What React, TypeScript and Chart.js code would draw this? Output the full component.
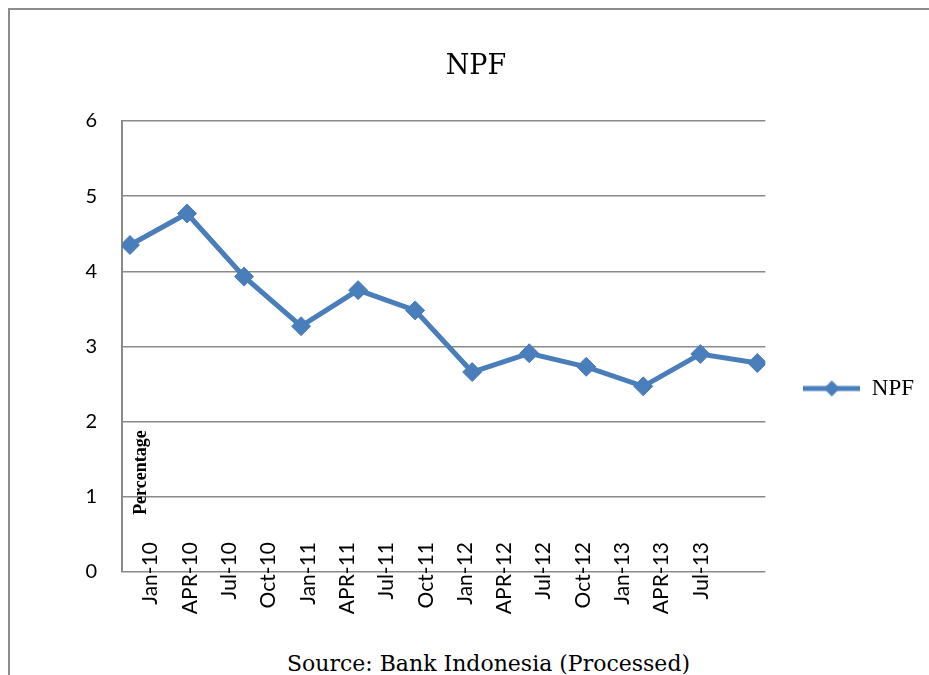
import React, { useEffect, useRef } from 'react';
import { Chart, registerables } from 'chart.js';

Chart.register(...registerables);

// ---- data ----
const categories = ['Jan-10', 'APR-10', 'Jul-10', 'Oct-10', 'Jan-11', 'APR-11', 'Jul-11', 'Oct-11', 'Jan-12', 'APR-12', 'Jul-12', 'Oct-12', 'Jan-13', 'APR-13', 'Jul-13'];
const pointIndex = [0, 1, 2, 3, 4, 5, 6, 7, 8, 9, 10, 11];
const npfValues = [4.35, 4.77, 3.93, 3.27, 3.75, 3.48, 2.66, 2.91, 2.73, 2.47, 2.9, 2.78];
const yMin = 0;
const yMax = 6;
const yStep = 1;
const chartTitle = 'NPF';
const seriesName = 'NPF';
const axisNote = 'Percentage';
const sourceNote = 'Source: Bank Indonesia (Processed)';

const LINE = '#4a7ebb';
const GRID = '#8a8a8a';

function makeLegendImage(): HTMLCanvasElement {
  const c = document.createElement('canvas');
  c.width = 57;
  c.height = 22;
  const g = c.getContext('2d')!;
  g.strokeStyle = LINE;
  g.lineWidth = 5;
  g.beginPath();
  g.moveTo(0, 11);
  g.lineTo(57, 11);
  g.stroke();
  g.fillStyle = LINE;
  g.beginPath();
  g.moveTo(28.5 - 8, 11);
  g.lineTo(28.5, 3);
  g.lineTo(28.5 + 8, 11);
  g.lineTo(28.5, 19);
  g.closePath();
  g.fill();
  return c;
}

const notePlugin = {
  id: 'axisNote',
  afterDraw(chart: any) {
    const { ctx, chartArea, scales } = chart;
    const y = scales.y.getPixelForValue(0.76);
    ctx.save();
    ctx.translate(chartArea.left + 19, y);
    ctx.rotate(-Math.PI / 2);
    ctx.font = 'bold 18px "Liberation Serif", serif';
    ctx.fillStyle = '#000';
    ctx.textAlign = 'left';
    ctx.textBaseline = 'middle';
    ctx.fillText(axisNote, 0, 0);
    ctx.restore();
  },
};

export default function App() {
  const ref = useRef<HTMLCanvasElement | null>(null);

  useEffect(() => {
    if (!ref.current) return;
    const legendImg = makeLegendImage();
    const chart = new Chart(ref.current, {
      type: 'line',
      data: {
        datasets: [
          {
            label: seriesName,
            data: pointIndex.map((x, i) => ({ x, y: npfValues[i] })),
            xAxisID: 'x',
            yAxisID: 'y',
            borderColor: LINE,
            backgroundColor: LINE,
            borderWidth: 5,
            tension: 0,
            pointStyle: 'rectRot',
            pointRadius: 9.5,
            pointBackgroundColor: LINE,
            pointBorderColor: LINE,
            pointBorderWidth: 1,
          },
        ],
      },
      plugins: [notePlugin],
      options: {
        responsive: false,
        animation: false,
        layout: { padding: { left: 28, right: 5, top: 0, bottom: 68 } },
        scales: {
          x: {
            type: 'linear',
            display: false,
            min: -0.14,
            max: 11.14,
          },
          xl: {
            type: 'linear',
            axis: 'x',
            position: { y: 0 },
            min: 0,
            max: 16.36,
            bounds: 'data',
            afterBuildTicks: (scale: any) => {
              scale.ticks = categories.map((_, i) => ({ value: i + 0.725 }));
            },
            grid: { display: false },
            border: { display: false },
            ticks: {
              autoSkip: false,
              minRotation: 90,
              maxRotation: 90,
              padding: -38,
              color: '#000',
              font: { family: 'Lato', size: 21 },
              callback: (_v: any, i: number) => categories[i],
            },
          },
          y: {
            min: yMin,
            max: yMax,
            afterFit: (scale: any) => {
              scale.width = 94;
            },
            grid: { color: GRID, lineWidth: 1.6, drawTicks: false },
            border: { display: true, color: GRID, width: 2 },
            ticks: {
              stepSize: yStep,
              padding: 25,
              color: '#000',
              font: { family: 'Lato', size: 20 },
            },
          },
        },
        plugins: {
          title: {
            display: true,
            text: chartTitle,
            color: '#000',
            font: { family: '"DejaVu Serif"', size: 27, weight: 'normal' },
            padding: { top: 51, bottom: 37.6 },
          },
          legend: {
            display: true,
            position: 'right',
            fullSize: false,
            title: {
              display: true,
              text: ' ',
              font: { size: 10 },
              padding: { top: 72, bottom: 0 },
            },
            labels: {
              usePointStyle: true,
              pointStyleWidth: 57,
              boxHeight: 22,
              padding: 38,
              color: '#000',
              font: { family: '"Liberation Serif"', size: 23 },
              generateLabels: () => [
                {
                  text: seriesName,
                  pointStyle: legendImg as any,
                  fillStyle: LINE,
                  strokeStyle: LINE,
                  lineWidth: 0,
                  hidden: false,
                  datasetIndex: 0,
                  fontColor: '#000',
                } as any,
              ],
            },
          },
          tooltip: { enabled: false },
        },
      },
    });
    return () => chart.destroy();
  }, []);

  return (
    <div style={{ position: 'fixed', left: 0, top: 0, width: 929, height: 675, overflow: 'hidden', background: '#fff' }}>
      <div
        style={{
          position: 'absolute',
          left: 8,
          top: 8,
          width: 1000,
          height: 1000,
          borderTop: '2px solid #8c8c8c',
          borderLeft: '2px solid #8c8c8c',
        }}
      />
      <canvas ref={ref} width={929} height={640} style={{ position: 'absolute', left: 0, top: 0, width: 929, height: 640 }} />
      <div
        style={{
          position: 'absolute',
          left: 0,
          width: 977,
          top: 652,
          textAlign: 'center',
          fontFamily: '"DejaVu Serif", serif',
          fontSize: 22,
          lineHeight: '23px',
          color: '#000',
          whiteSpace: 'nowrap',
        }}
      >
        {sourceNote}
      </div>
    </div>
  );
}
